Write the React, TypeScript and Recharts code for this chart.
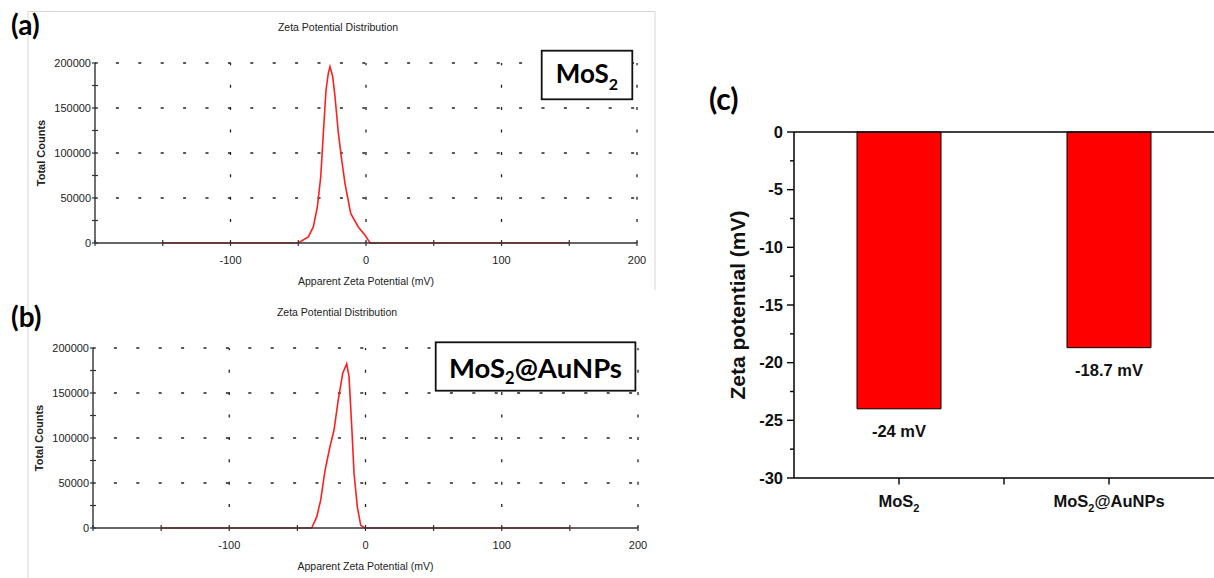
import {
  LineChart,
  Line,
  XAxis,
  YAxis,
  ReferenceLine,
  BarChart,
  Bar,
  LabelList,
} from "recharts";

const SANS = "'Liberation Sans', Arial, sans-serif";
const CALIBRI = "Lato, 'Open Sans', sans-serif";
const AXIS = "#333333";
const RED = "#ff1f1f";
const GRID_DASH = "3 19.4";

// (a) MoS2 — zeta potential distribution
const potentialA = [-150, -50, -42.6, -38.9, -35.9, -33.4, -31.5, -29.5, -27.8, -26.6, -24.6, -22.9, -20.4, -17.9, -15.5, -11.3, -5.7, -0.7, 3, 150];
const countsA = [0, 0, 6700, 17800, 40100, 73600, 122000, 170000, 188800, 196000, 185000, 163000, 122000, 92000, 66000, 32800, 17800, 8600, 0, 0];

// (b) MoS2@AuNPs
const potentialB = [-150, -39.5, -35.8, -32.9, -29.7, -26.1, -23.1, -20, -16.7, -13.8, -12.1, -10.1, -8.4, -6, -3.5, -0.4, 150];
const countsB = [0, 0, 12300, 30900, 64100, 90300, 108900, 142300, 172100, 182500, 168400, 112600, 60600, 23400, 3000, 0, 0];

const potentialTicks = [-200, -150, -100, -50, 0, 50, 100, 150, 200];
const potentialLabels = [-100, 0, 100, 200];
const countTicks = [0, 25000, 50000, 75000, 100000, 125000, 150000, 175000, 200000];
const countGrid = [50000, 100000, 150000, 200000];
const potentialGrid = [-100, 0, 100, 200];

// (c) mean zeta potential
const samples = ["MoS₂", "MoS₂@AuNPs"];
const zeta = [-24, -18.7];
const zetaTicks = [-30, -27.5, -25, -22.5, -20, -17.5, -15, -12.5, -10, -7.5, -5, -2.5, 0];
const sampleTicks = [1, 1.5, 2];

const dataA = potentialA.map((p, i) => ({ potential: p, counts: countsA[i] }));
const dataB = potentialB.map((p, i) => ({ potential: p, counts: countsB[i] }));
const zetaData = samples.map((s, i) => ({ pos: i + 1, name: s, zeta: zeta[i] }));

// splits "MoS₂..." into normal text + lowered subscript 2
function SubText({ label, size, subSize, drop }: { label: string; size: number; subSize: number; drop: number }) {
  const [head, tail] = label.split("₂");
  return (
    <>
      <tspan fontSize={size}>{head}</tspan>
      {tail !== undefined && (
        <tspan fontSize={subSize} dy={drop}>
          2
        </tspan>
      )}
      {tail ? (
        <tspan fontSize={size} dy={-drop}>
          {tail}
        </tspan>
      ) : null}
    </>
  );
}

function CountTick({ x, y, payload }: any) {
  const major = payload.value % 50000 === 0;
  return (
    <g>
      <line x1={x - 3} x2={x + 3} y1={y} y2={y} stroke={AXIS} strokeWidth={1.2} />
      {major && (
        <text x={x - 4} y={y + 4} textAnchor="end" fontFamily={SANS} fontSize={11} fill="#222">
          {payload.value}
        </text>
      )}
    </g>
  );
}

function PotentialTick({ x, y, payload }: any) {
  const show = potentialLabels.includes(payload.value);
  return (
    <g>
      <line x1={x} x2={x} y1={y - 3} y2={y + 3} stroke={AXIS} strokeWidth={1.2} />
      {show && (
        <text x={x} y={y + 21} textAnchor="middle" fontFamily={SANS} fontSize={11} fill="#222">
          {payload.value}
        </text>
      )}
    </g>
  );
}

function Distribution({
  data,
  width,
  height,
  margin,
  yWidth,
  yLabelX,
  xLabelOffset,
}: {
  data: { potential: number; counts: number }[];
  width: number;
  height: number;
  margin: { top: number; right: number; bottom: number; left: number };
  yWidth: number;
  yLabelX: number;
  xLabelOffset: number;
}) {
  return (
    <LineChart width={width} height={height} data={data} margin={margin}>
      {countGrid.map((v) => (
        <ReferenceLine key={"h" + v} y={v} stroke="#222" strokeWidth={1.3} strokeDasharray={GRID_DASH} strokeDashoffset={1.5} />
      ))}
      {potentialGrid.map((v) => (
        <ReferenceLine key={"v" + v} x={v} stroke="#222" strokeWidth={1.3} strokeDasharray={GRID_DASH} strokeDashoffset={1.5} />
      ))}
      <XAxis
        dataKey="potential"
        type="number"
        domain={[-200, 200]}
        ticks={potentialTicks}
        interval={0}
        height={30}
        tickLine={false}
        tickSize={0}
        tickMargin={0}
        tick={<PotentialTick />}
        axisLine={{ stroke: AXIS, strokeWidth: 1.4 }}
        label={{
          value: "Apparent Zeta Potential (mV)",
          position: "bottom",
          offset: xLabelOffset,
          style: { fontFamily: SANS, fontSize: 10.5, fill: "#222" },
        }}
      />
      <YAxis
        type="number"
        domain={[0, 200000]}
        ticks={countTicks}
        interval={0}
        width={yWidth}
        tickLine={false}
        tickSize={0}
        tickMargin={0}
        tick={<CountTick />}
        axisLine={{ stroke: AXIS, strokeWidth: 1.4 }}
        label={{
          value: "Total Counts",
          angle: -90,
          position: "insideLeft",
          offset: yLabelX,
          style: { fontFamily: SANS, fontSize: 11, fontWeight: "bold", fill: "#222", textAnchor: "middle" },
        }}
      />
      <Line
        type="linear"
        dataKey="counts"
        stroke={RED}
        strokeWidth={1.6}
        dot={false}
        activeDot={false}
        isAnimationActive={false}
      />
    </LineChart>
  );
}

function ZetaTick({ x, y, payload }: any) {
  const v = payload.value;
  const major = v % 5 === 0;
  return (
    <g>
      <line x1={x - (major ? 7 : 4)} x2={x} y1={y} y2={y} stroke="#000" strokeWidth={1.4} />
      {major && (
        <text x={x - 11} y={y + 5.8} textAnchor="end" fontFamily={SANS} fontWeight="bold" fontSize={16.5} fill="#111">
          {v}
        </text>
      )}
    </g>
  );
}

function SampleTick({ x, y, payload }: any) {
  const label = samples[payload.value - 1];
  return (
    <g>
      <line x1={x} x2={x} y1={y} y2={y + 6.5} stroke="#000" strokeWidth={1.4} />
      {label && (
        <text x={x} y={y + 28.5} textAnchor="middle" fontFamily={SANS} fontWeight="bold" fill="#111">
          <SubText label={label} size={16.5} subSize={11} drop={5} />
        </text>
      )}
    </g>
  );
}

function ValueLabel({ x, y, width, height, value }: any) {
  const bottom = Math.max(y, y + height);
  return (
    <text x={x + width / 2} y={bottom + 28} textAnchor="middle" fontFamily={SANS} fontWeight="bold" fontSize={16.5} fill="#111">
      {`${value} mV`}
    </text>
  );
}

export default function App() {
  return (
    <div style={{ position: "absolute", left: 0, top: 0, width: 1214, height: 578, background: "#fff" }}>
      <div style={{ position: "absolute", left: 0, top: 0 }}>
        <Distribution
          data={dataA}
          width={660}
          height={300}
          margin={{ top: 63, right: 23, bottom: 27, left: 0 }}
          yWidth={95}
          yLabelX={41}
          xLabelOffset={5}
        />
      </div>
      <div style={{ position: "absolute", left: 0, top: 290 }}>
        <Distribution
          data={dataB}
          width={660}
          height={288}
          margin={{ top: 58, right: 22, bottom: 20, left: 0 }}
          yWidth={93}
          yLabelX={39}
          xLabelOffset={4.3}
        />
      </div>
      <div style={{ position: "absolute", left: 680, top: 80 }}>
        <BarChart width={534} height={498} data={zetaData} margin={{ top: 52, right: 0, bottom: 60, left: 0 }}>
          <XAxis
            dataKey="pos"
            type="number"
            domain={[0.5, 2.5]}
            ticks={sampleTicks}
            interval={0}
            height={40}
            tickLine={false}
            tickSize={0}
            tickMargin={0}
            tick={<SampleTick />}
            axisLine={{ stroke: "#000", strokeWidth: 1.5 }}
          />
          <YAxis
            type="number"
            domain={[-30, 0]}
            ticks={zetaTicks}
            interval={0}
            width={114}
            tickLine={false}
            tickSize={0}
            tickMargin={0}
            tick={<ZetaTick />}
            axisLine={{ stroke: "#000", strokeWidth: 1.5 }}
            label={{
              value: "Zeta potential (mV)",
              angle: -90,
              position: "insideLeft",
              offset: 58,
              style: { fontFamily: SANS, fontSize: 21, fontWeight: "bold", fill: "#111", textAnchor: "middle" },
            }}
          />
          <Bar dataKey="zeta" barSize={84} fill="#ff0000" stroke="#000" strokeWidth={1} isAnimationActive={false}>
            <LabelList dataKey="zeta" content={<ValueLabel />} />
          </Bar>
          <ReferenceLine y={0} stroke="#000" strokeWidth={1.5} />
        </BarChart>
      </div>
      <svg width={1214} height={578} style={{ position: "absolute", left: 0, top: 0, pointerEvents: "none" }}>
        <path d="M28 11.5H655V290 M28 11.5V578" stroke="#d6d6d6" strokeWidth={1} fill="none" />
        <text x={11} y={35} fontFamily={CALIBRI} fontWeight={700} fontSize={28} fill="#000">(a)</text>
        <text x={11} y={326.5} fontFamily={CALIBRI} fontWeight={700} fontSize={28} fill="#000">(b)</text>
        <text x={709} y={110} fontFamily={CALIBRI} fontWeight={700} fontSize={30} fill="#000">(c)</text>
        <text x={338} y={30.8} textAnchor="middle" fontFamily={SANS} fontSize={10.5} fill="#222">Zeta Potential Distribution</text>
        <text x={337} y={315.5} textAnchor="middle" fontFamily={SANS} fontSize={10.5} fill="#222">Zeta Potential Distribution</text>
        <rect x={541.7} y={50.7} width={90.6} height={48.6} fill="#fff" stroke="#111" strokeWidth={1.8} />
        <text x={587} y={83.3} textAnchor="middle" fontFamily={CALIBRI} fontWeight={700} fill="#000">
          <SubText label={samples[0]} size={26} subSize={16} drop={6.5} />
        </text>
        <rect x={435.7} y={342.3} width={199.7} height={48.4} fill="#fff" stroke="#111" strokeWidth={1.8} />
        <text x={535.5} y={377.5} textAnchor="middle" fontFamily={CALIBRI} fontWeight={700} fill="#000">
          <SubText label={samples[1]} size={27.5} subSize={16.5} drop={6.5} />
        </text>
      </svg>
    </div>
  );
}
